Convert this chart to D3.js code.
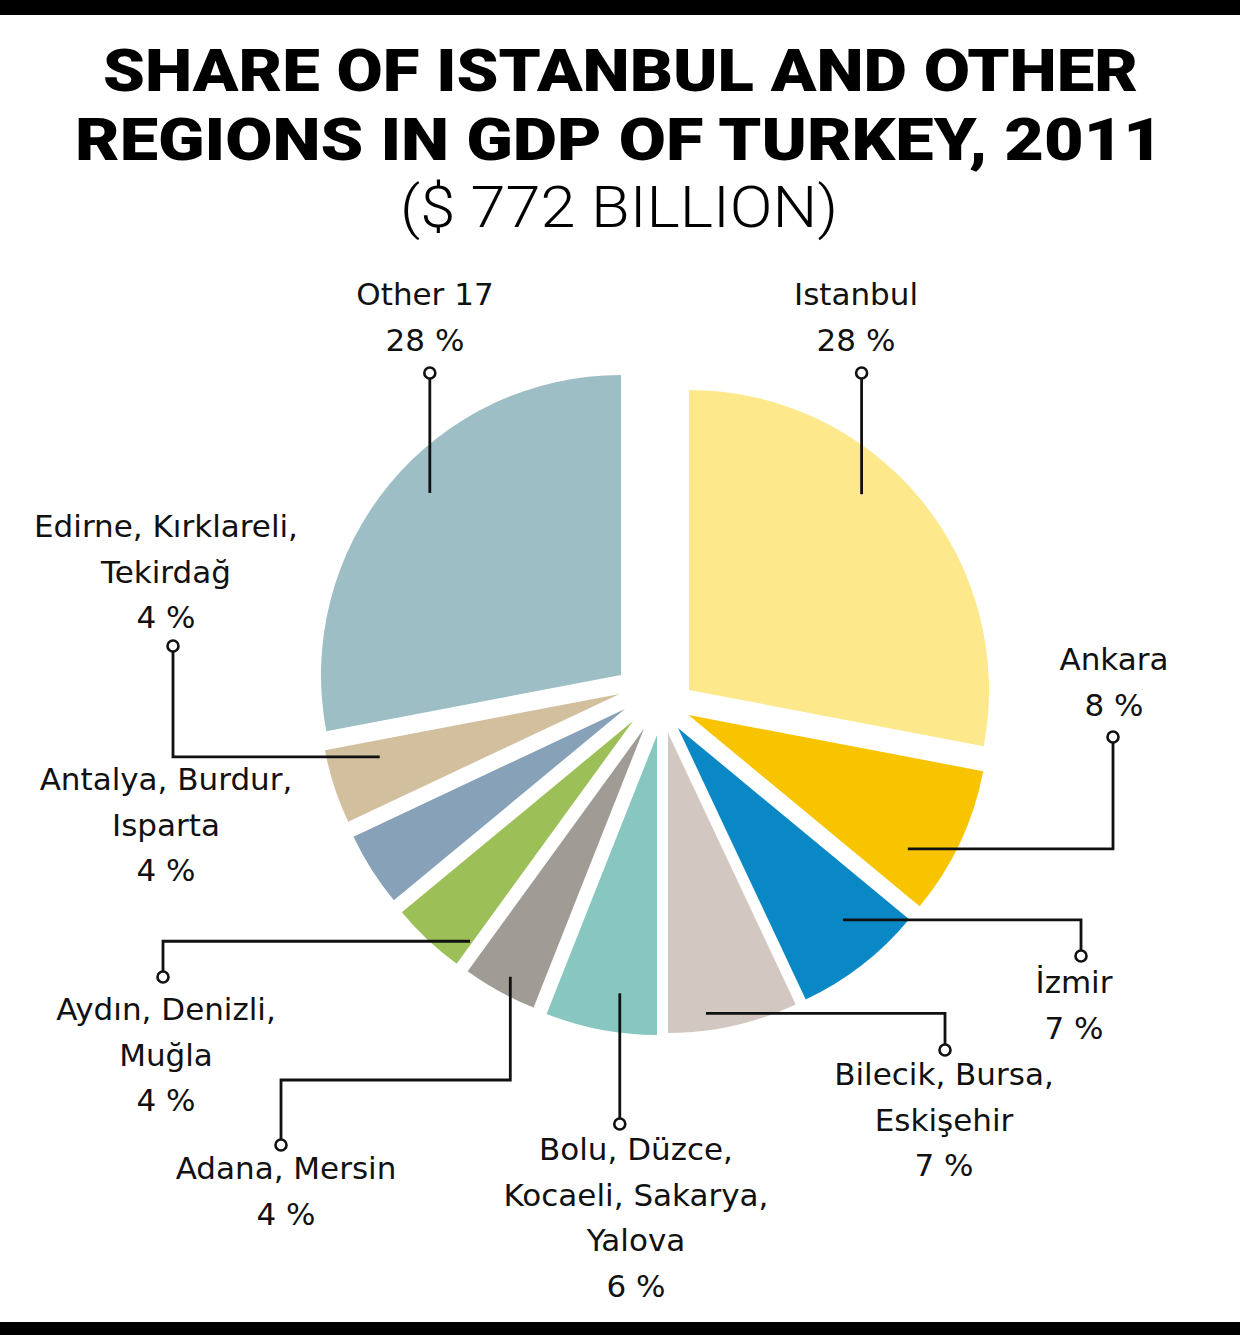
<!DOCTYPE html>
<html>
<head>
<meta charset="utf-8">
<style>
  body { margin: 0; background: #fff; }
  .title { font-family: Roboto, "DejaVu Sans", sans-serif; font-weight: 900; font-size: 60px; fill: #000; }
  .subtitle { font-family: Roboto, "DejaVu Sans", sans-serif; font-weight: 300; font-size: 58px; fill: #000; }
  .label { font-family: "DejaVu Sans", sans-serif; font-size: 31px; fill: #111; }
</style>
<script src="https://cdn.jsdelivr.net/npm/d3@7"></script>
</head>
<body>
<script>
// data, clockwise from 12 o'clock
const regions = ["Istanbul", "Ankara", "İzmir", "Bilecik, Bursa, Eskişehir",
    "Bolu, Düzce, Kocaeli, Sakarya, Yalova", "Adana, Mersin", "Aydın, Denizli, Muğla",
    "Antalya, Burdur, Isparta", "Edirne, Kırklareli, Tekirdağ", "Other 17"];
const shares = [28, 8, 7, 7, 6, 4, 4, 4, 4, 28];
const titleLines = ["SHARE OF ISTANBUL AND OTHER", "REGIONS IN GDP OF TURKEY, 2011"];
const subtitle = "($ 772 BILLION)";

const colors = ["#FDE88C", "#F8C400", "#0A88C5", "#D2C8C1", "#87C7C0",
    "#A19B96", "#9CBF57", "#87A1B8", "#D1BF9E", "#9DBEC4"];

const w = 1240;
const h = 1335;
const cx = 662;
const cy = 700;
const radius = 300;

// hand-placed explosion of each slice (as in the original graphic)
const sliceShift = [[27, -10], [26.5, 15], [16, 28], [6, 33], [-5, 35],
    [-18, 28.5], [-29, 21], [-37, 9], [-42.4, -6], [-41, -25]];

// label placement: text centre, first baseline, how the names wrap,
// leader route, anchor (angle nudge from slice middle, radius) and dot
const labelLayout = [
    { x: 856, y: 305, wrap: [1], route: "v", ang: -9, r: 261, dot: [0, 373] },
    { x: 1114, y: 670, wrap: [1], route: "hv", ang: 6.2, r: 257, dot: [1113, 737] },
    { x: 1074, y: 993, wrap: [1], route: "hv", ang: -2.9, r: 253, dot: [1081, 956] },
    { x: 944, y: 1085, wrap: [2, 1], route: "hv", ang: 4.9, r: 283, dot: [945, 1050] },
    { x: 636, y: 1160, wrap: [2, 2, 1], route: "v", ang: -2.6, r: 261, dot: [0, 1124] },
    { x: 286, y: 1179, wrap: [2], route: "vhv", ang: -0.5, r: 282, dot: [281, 1145], midY: 1080 },
    { x: 166, y: 1020, wrap: [2, 1], route: "hv", ang: -6.7, r: 274, dot: [163, 977] },
    { x: 166, y: 790, wrap: [2, 1], route: null },
    { x: 166, y: 537, wrap: [2, 1], route: "hv", ang: 3.3, r: 248, dot: [173, 646] },
    { x: 425, y: 305, wrap: [1], route: "v", ang: 4, r: 264, dot: [0, 373] }
];
const lineHeight = 45.5;

const svg = d3.select("body")
    .append("svg")
    .attr("width", w)
    .attr("height", h);

svg.append("rect").attr("x", 0).attr("y", 0).attr("width", w).attr("height", 15).attr("fill", "#000");
svg.append("rect").attr("x", 0).attr("y", 1322).attr("width", w).attr("height", 13).attr("fill", "#000");

// title
svg.append("text").attr("class", "title")
    .attr("x", 620.5).attr("y", 91)
    .attr("text-anchor", "middle")
    .attr("textLength", 1035).attr("lengthAdjust", "spacingAndGlyphs")
    .text(titleLines[0]);
svg.append("text").attr("class", "title")
    .attr("x", 619).attr("y", 160)
    .attr("text-anchor", "middle")
    .attr("textLength", 1088).attr("lengthAdjust", "spacingAndGlyphs")
    .text(titleLines[1]);
svg.append("text").attr("class", "subtitle")
    .attr("x", 619).attr("y", 227)
    .attr("text-anchor", "middle")
    .attr("textLength", 438).attr("lengthAdjust", "spacingAndGlyphs")
    .text(subtitle);

// pie
const pie = d3.pie().sort(null).value((d) => d)
    .startAngle(0).endAngle(2 * Math.PI);
const arcs = pie(shares);
const arc = d3.arc().innerRadius(0).outerRadius(radius);

const apex = (i) => [cx + sliceShift[i][0], cy + sliceShift[i][1]];

svg.append("g")
    .selectAll("path")
    .data(arcs)
    .enter()
    .append("path")
    .attr("transform", (d, i) => "translate(" + apex(i)[0] + "," + apex(i)[1] + ")")
    .attr("d", arc)
    .attr("fill", (d, i) => colors[i]);

// leaders
const anchor = (d, i) => {
    const L = labelLayout[i];
    const a = (d.startAngle + d.endAngle) / 2 + L.ang * Math.PI / 180;
    const p = apex(i);
    return [p[0] + L.r * Math.sin(a), p[1] - L.r * Math.cos(a)];
};

const leaders = arcs.map((d, i) => {
    const L = labelLayout[i];
    if (!L.route) return null;
    const a = anchor(d, i);
    let pts;
    let dot;
    if (L.route === "v") {
        dot = [a[0], L.dot[1]];
        pts = [a, dot];
    } else if (L.route === "hv") {
        dot = L.dot;
        pts = [a, [dot[0], a[1]], dot];
    } else {
        dot = L.dot;
        pts = [a, [a[0], L.midY], [dot[0], L.midY], dot];
    }
    return { pts: pts, dot: dot };
}).filter((d) => d);

const g = svg.append("g");
g.selectAll("path")
    .data(leaders)
    .enter()
    .append("path")
    .attr("d", (d) => d3.line()(d.pts))
    .attr("fill", "none")
    .attr("stroke", "#111")
    .attr("stroke-width", 2.8);
g.selectAll("circle")
    .data(leaders)
    .enter()
    .append("circle")
    .attr("cx", (d) => d.dot[0])
    .attr("cy", (d) => d.dot[1])
    .attr("r", 5.5)
    .attr("fill", "#fff")
    .attr("stroke", "#111")
    .attr("stroke-width", 2.6);

// labels
const labelLines = (i) => {
    const parts = regions[i].split(", ");
    const lines = [];
    let k = 0;
    labelLayout[i].wrap.forEach((n, j, all) => {
        let s = parts.slice(k, k + n).join(", ");
        k += n;
        if (j < all.length - 1) s += ",";
        lines.push(s);
    });
    lines.push(shares[i] + " %");
    return lines;
};

const labels = svg.append("g")
    .selectAll("text")
    .data(regions)
    .enter()
    .append("text")
    .attr("class", "label")
    .attr("text-anchor", "middle");

labels.each(function (d, i) {
    const L = labelLayout[i];
    d3.select(this).selectAll("tspan")
        .data(labelLines(i))
        .enter()
        .append("tspan")
        .attr("x", L.x)
        .attr("y", (t, j) => L.y + j * lineHeight)
        .text((t) => t);
});
</script>
</body>
</html>
